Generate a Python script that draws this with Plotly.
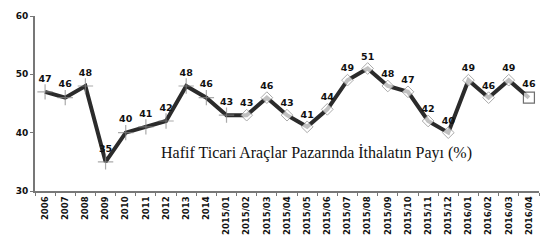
import plotly.graph_objects as go

categories = ["2006", "2007", "2008", "2009", "2010", "2011", "2012", "2013", "2014",
              "2015/01", "2015/02", "2015/03", "2015/04", "2015/05", "2015/06", "2015/07",
              "2015/08", "2015/09", "2015/10", "2015/11", "2015/12", "2016/01", "2016/02",
              "2016/03", "2016/04"]
values = [47, 46, 48, 35, 40, 41, 42, 48, 46, 43, 43, 46, 43, 41, 44, 49, 51, 48, 47, 42,
          40, 49, 46, 49, 46]
y_ticks = [30, 40, 50, 60]
title_text = "Hafif Ticari Araçlar Pazarında İthalatın Payı (%)"

n_cross = 10
symbols = ["cross-thin"] * n_cross + ["diamond"] * (len(values) - n_cross - 1) + ["square"]
sizes = [11] * n_cross + [9] * (len(values) - n_cross - 1) + [11]
mcolors = ["#888888"] * n_cross + ["white"] * (len(values) - n_cross)
lcolors = ["#888888"] * (len(values) - 1) + ["#333333"]
lwidths = [1.2] * n_cross + [1] * (len(values) - n_cross - 1) + [1.2]

fig = go.Figure()
fig.add_trace(go.Scatter(
    x=categories, y=values, mode="lines",
    line=dict(color="#2b2b2b", width=4), hoverinfo="skip", showlegend=False))
fig.add_trace(go.Scatter(
    x=categories, y=values, mode="markers+text",
    text=[str(v) for v in values], textposition="top center",
    textfont=dict(family="DejaVu Sans", size=9.5, color="#111111", weight="bold"),
    marker=dict(symbol=symbols, size=sizes, color=mcolors,
                line=dict(color=lcolors, width=lwidths)),
    showlegend=False, cliponaxis=False))

fig.add_annotation(text=title_text, x=0.558, y=36.5, xref="paper", yref="y",
                   showarrow=False,
                   font=dict(family="Liberation Serif", size=16, color="#111111"))

fig.update_layout(
    width=556, height=252,
    margin=dict(l=35, r=17, t=16, b=61),
    paper_bgcolor="white", plot_bgcolor="white",
    xaxis=dict(type="category", tickangle=-90, showline=True, linecolor="#777777",
               linewidth=2, ticks="outside", ticklen=3, tickcolor="#777777",
               tickson="boundaries", showgrid=False, range=[-0.5, len(categories) - 0.5],
               tickfont=dict(family="DejaVu Sans", size=8.5, color="#111111", weight="bold")),
    yaxis=dict(range=[30, 60], tickvals=y_ticks, showline=True, linecolor="#777777",
               linewidth=2, ticks="outside", ticklen=3, tickcolor="#777777",
               showgrid=False, zeroline=False,
               tickfont=dict(family="DejaVu Sans", size=9, color="#111111", weight="bold")),
)

fig.write_html("out.html")
